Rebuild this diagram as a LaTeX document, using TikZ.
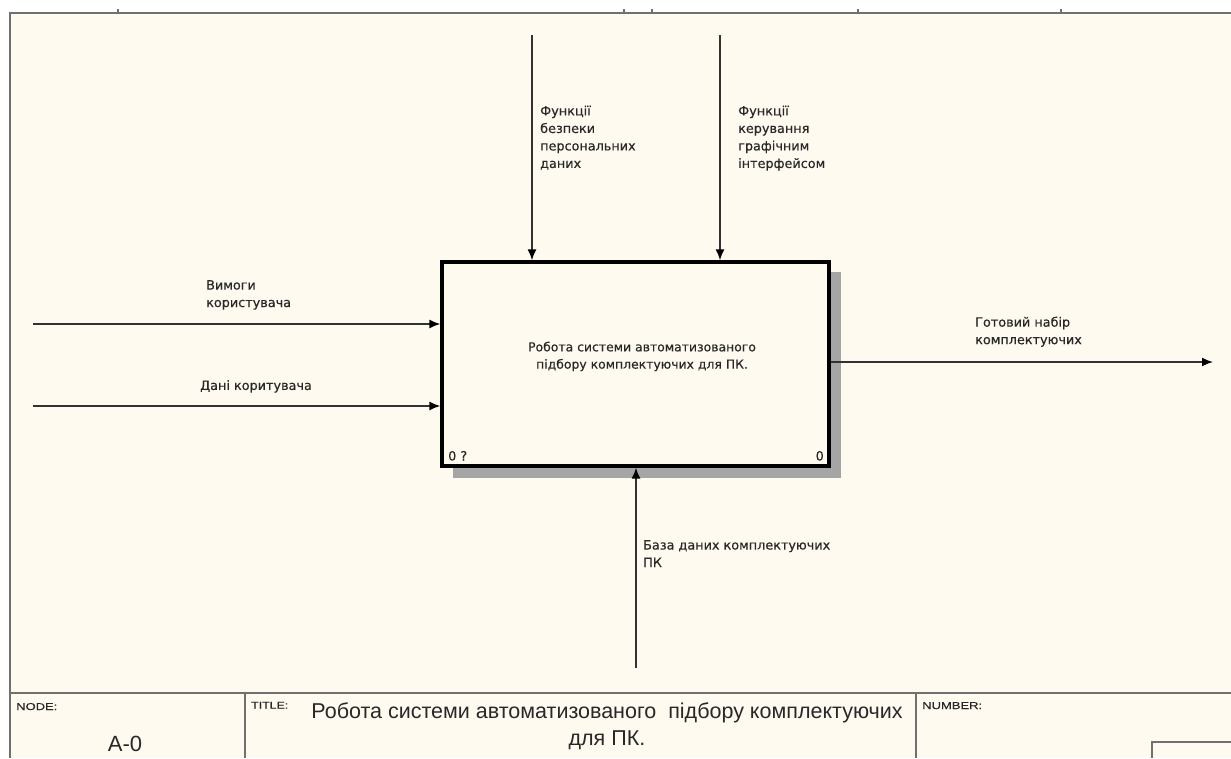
\documentclass[tikz,border=0pt]{standalone}
\usepackage{fontspec}
\setmainfont{DejaVu Sans}
\newfontfamily\arialfont{Liberation Sans}
\newfontfamily\widefont[FakeStretch=1.3]{Liberation Sans}
\usetikzlibrary{arrows.meta}

\definecolor{paper}{RGB}{254,250,239}
\definecolor{framegray}{RGB}{112,112,112}
\definecolor{linegray}{RGB}{50,50,50}
\definecolor{labelgray}{RGB}{40,40,40}
\definecolor{shadowgray}{RGB}{165,165,165}

\tikzset{
  frameline/.style={draw=framegray, line width=2pt},
  tickline/.style={draw=framegray, line width=1.2pt},
  flow/.style={draw=linegray, line width=1.7pt, -{Latex[length=11pt,width=9pt,black]}},
  lbl/.style={anchor=north west, inner sep=0pt, align=left,
              font=\addfontfeature{FakeBold=0.4}\fontsize{12.8}{17.5}\selectfont, text=labelgray},
  activity/.style={draw=black, line width=3.2pt, fill=paper, inner sep=0pt,
                   minimum width=387pt, minimum height=204pt},
  boxtext/.style={inner sep=0pt, align=center,
                  font=\addfontfeature{FakeBold=0.4}\fontsize{12.4}{17.3}\selectfont, text=labelgray},
  cornertext/.style={inner sep=0pt, font=\addfontfeature{FakeBold=0.4}\fontsize{12.8}{14}\selectfont, text=labelgray},
  fieldname/.style={anchor=base west, inner sep=0pt,
                    font=\widefont\addfontfeature{FakeBold=0.4}\fontsize{10}{10}\selectfont, text=labelgray},
}

\begin{document}
\begin{tikzpicture}[x=1pt,y=-1pt]
  % page and sheet
  \useasboundingbox (0,0) rectangle (1231,758);
  \fill[white] (0,0) rectangle (1231,758);
  \fill[paper] (10,13) rectangle (1231,758);

  % sheet border and ruler ticks
  \draw[frameline] (10,758) -- (10,13) -- (1231,13);
  \foreach \t in {118,624,652,858,1061}
    \draw[tickline] (\t,9) -- (\t,13);

  % title block
  \draw[frameline] (10,693) -- (1231,693);
  \draw[frameline] (245,693) -- (245,758);
  \draw[frameline] (916,693) -- (916,758);
  \draw[frameline] (1152,758) -- (1152,742) -- (1231,742);

  \node[fieldname] (nodelbl) at (16,710) {NODE:};
  \node[fieldname, font=\widefont\addfontfeature{FakeBold=0.4}\fontsize{9.5}{10}\selectfont]
    (titlelbl) at (251,708.5) {TITLE:};
  \node[fieldname] (numlbl) at (922,709) {NUMBER:};
  \node[anchor=base, inner sep=0pt, font=\arialfont\fontsize{22}{24}\selectfont, text=labelgray]
    (nodeid) at (125,751) {A-0};
  \node[anchor=north, inner sep=0pt, align=center,
        font=\arialfont\fontsize{21.5}{27}\selectfont, text=labelgray]
    (title) at (607,703) {Робота системи автоматизованого \ підбору комплектуючих\\для ПК.};

  % activity box with its shadow
  \fill[shadowgray] (453,272) rectangle (841,478);
  \node[activity] (box) at (635.5,364) {};
  \node[boxtext, anchor=north] (boxlbl) at (642,341.5)
    {Робота системи автоматизованого\\підбору комплектуючих для ПК.};
  \node[cornertext, anchor=base west] (boxnum) at (448,460.5) {0 ?};
  \node[cornertext, anchor=base east] (boxcost) at (824,460.5) {0};

  % inputs
  \coordinate (in1) at (33,324);
  \coordinate (in2) at (33,406);
  \draw[flow] (in1) -- (in1 -| box.west);
  \draw[flow] (in2) -- (in2 -| box.west);
  \node[lbl] (in1lbl) at (206,280) {Вимоги\\користувача};
  \node[lbl] (in2lbl) at (200,380) {Дані коритувача};

  % controls
  \coordinate (ctl1) at (532,35);
  \coordinate (ctl2) at (720,35);
  \draw[flow] (ctl1) -- (ctl1 |- box.north);
  \draw[flow] (ctl2) -- (ctl2 |- box.north);
  \node[lbl] (ctl1lbl) at (540,105.5) {Функції\\безпеки\\персональних\\даних};
  \node[lbl] (ctl2lbl) at (738,105.5) {Функції\\керування\\графічним\\інтерфейсом};

  % output
  \coordinate (out) at (1213,362);
  \draw[flow] (box.east |- out) -- (out);
  \node[lbl] (outlbl) at (975,316.5) {Готовий набір\\комплектуючих};

  % mechanism
  \coordinate (mech) at (636,668);
  \draw[flow] (mech) -- (mech |- box.south);
  \node[lbl] (mechlbl) at (643,540) {База даних комплектуючих\\ПК};
\end{tikzpicture}
\end{document}
